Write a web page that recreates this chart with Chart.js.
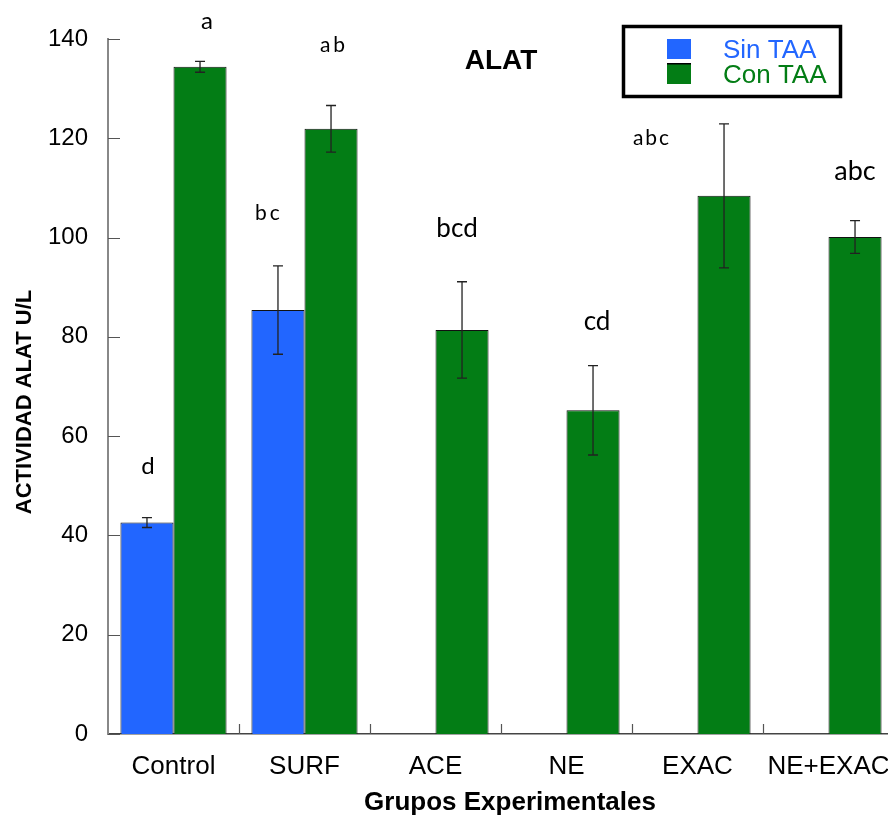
<!DOCTYPE html>
<html>
<head>
<meta charset="utf-8">
<script src="https://cdn.jsdelivr.net/npm/chart.js@4/dist/chart.umd.min.js"></script>
<style>
  html, body { margin: 0; padding: 0; background: #fff; overflow: hidden; }
  canvas { display: block; }
</style>
</head>
<body>
<canvas id="alat" width="894" height="816"></canvas>
<script>
// ALAT activity per experimental group, with and without TAA
const groups = ['Control', 'SURF', 'ACE', 'NE', 'EXAC', 'NE+EXAC'];
const sinTAA = [42.6, 85.4, null, null, null, null];
const sinTAAErr = [1.0, 8.9, null, null, null, null];
const conTAA = [134.4, 121.9, 81.4, 65.2, 108.4, 100.1];
const conTAAErr = [1.1, 4.7, 9.7, 9.0, 14.5, 3.3];
const sinLetters = ['d', 'bc', null, null, null, null];
const conLetters = ['a', 'ab', 'bcd', 'cd', 'abc', 'abc'];
const yTicks = [0, 20, 40, 60, 80, 100, 120, 140];

const BLUE = '#2266FF';
const GREEN = '#037D15';
const SANS = '"Liberation Sans", Arial, sans-serif';
const LETTER_FONT = 'Lato, "Open Sans", sans-serif';

// Error bars: value ± err, drawn on top of every bar
const errorBars = {
  id: 'errorBars',
  afterDatasetsDraw(chart, args, opts) {
    const { ctx } = chart;
    const y = chart.scales.y;
    chart.data.datasets.forEach((ds, i) => {
      const meta = chart.getDatasetMeta(i);
      meta.data.forEach((bar, j) => {
        const v = ds.data[j], e = ds.errors[j];
        if (v == null || e == null) return;
        const yt = y.getPixelForValue(v + e);
        const yb = y.getPixelForValue(v - e);
        ctx.save();
        ctx.strokeStyle = opts.color;
        ctx.lineWidth = opts.width;
        ctx.beginPath();
        ctx.moveTo(bar.x, yt); ctx.lineTo(bar.x, yb);
        ctx.moveTo(bar.x - opts.cap, yt); ctx.lineTo(bar.x + opts.cap, yt);
        ctx.moveTo(bar.x - opts.cap, yb); ctx.lineTo(bar.x + opts.cap, yb);
        ctx.stroke();
        ctx.restore();
      });
    });
  }
};

// Significance letters above each bar (offsets in pixels from the error-bar top)
const letterMarks = {
  id: 'letterMarks',
  afterDatasetsDraw(chart, args, opts) {
    const { ctx } = chart;
    const y = chart.scales.y;
    chart.data.datasets.forEach((ds, i) => {
      const meta = chart.getDatasetMeta(i);
      const offs = opts.offsets[i];
      const styles = opts.styles[i];
      ds.letters.forEach((txt, j) => {
        if (!txt) return;
        const bar = meta.data[j];
        const top = y.getPixelForValue(ds.data[j] + (ds.errors[j] || 0));
        const st = styles[j];
        ctx.save();
        ctx.fillStyle = '#000';
        ctx.font = st.size + 'px ' + LETTER_FONT;
        ctx.letterSpacing = st.spacing + 'px';
        ctx.textAlign = 'center';
        ctx.textBaseline = 'middle';
        ctx.fillText(txt, bar.x + offs[j][0], top + offs[j][1]);
        ctx.restore();
      });
    });
  }
};

// Inside tick marks on both axes
const innerTicks = {
  id: 'innerTicks',
  afterDraw(chart) {
    const { ctx } = chart;
    const xs = chart.scales.x, ys = chart.scales.y;
    ctx.save();
    ctx.strokeStyle = '#555';
    ctx.lineWidth = 1.2;
    ctx.beginPath();
    ys.ticks.forEach((t, k) => {
      const py = Math.round(ys.getPixelForTick(k)) + 0.5;
      ctx.moveTo(ys.right, py); ctx.lineTo(ys.right + 12, py);
    });
    const half = (xs.getPixelForTick(1) - xs.getPixelForTick(0)) / 2;
    for (let k = 1; k < groups.length; k++) {
      const px = Math.round(xs.getPixelForTick(k) - half) + 0.5;
      ctx.moveTo(px, xs.top); ctx.lineTo(px, xs.top - 10);
    }
    ctx.stroke();
    ctx.restore();
  }
};

// Heading, axis titles and boxed legend
const headingAndLegend = {
  id: 'headingAndLegend',
  afterDraw(chart) {
    const { ctx } = chart;
    ctx.save();
    ctx.fillStyle = '#000';
    ctx.textAlign = 'center';
    ctx.textBaseline = 'middle';
    ctx.font = 'bold 28px ' + SANS;
    ctx.fillText('ALAT', 501, 61);

    ctx.font = 'bold 26px ' + SANS;
    ctx.fillText('Grupos Experimentales', 510, 803);

    ctx.save();
    ctx.translate(25, 402);
    ctx.rotate(-Math.PI / 2);
    ctx.font = 'bold 22px ' + SANS;
    ctx.fillText('ACTIVIDAD ALAT U/L', 0, 0);
    ctx.restore();

    ctx.strokeStyle = '#000';
    ctx.lineWidth = 3.5;
    ctx.strokeRect(623.5, 26.5, 217, 70);

    chart.data.datasets.forEach((ds, i) => {
      const rowY = 49 + i * 25;
      ctx.fillStyle = ds.backgroundColor;
      ctx.fillRect(667, rowY - 10, 24, 20);
      if (i > 0) {
        ctx.fillStyle = '#000';
        ctx.fillRect(667, rowY - 11, 24, 1.5);
      }
      ctx.fillStyle = ds.backgroundColor;
      ctx.font = '26px ' + SANS;
      ctx.textAlign = 'left';
      ctx.textBaseline = 'middle';
      ctx.fillText(ds.label, 723, rowY + 2);
    });
    ctx.restore();
  }
};

new Chart(document.getElementById('alat'), {
  type: 'bar',
  data: {
    labels: groups,
    datasets: [
      { label: 'Sin TAA', data: sinTAA, errors: sinTAAErr, letters: sinLetters,
        backgroundColor: BLUE, borderColor: '#111', borderWidth: 1 },
      { label: 'Con TAA', data: conTAA, errors: conTAAErr, letters: conLetters,
        backgroundColor: GREEN, borderColor: '#111', borderWidth: 1 }
    ]
  },
  options: {
    responsive: false,
    animation: false,
    layout: { padding: { top: 39, right: 0, left: 0, bottom: 0 } },
    datasets: { bar: { categoryPercentage: 0.81, barPercentage: 1.0 } },
    scales: {
      x: {
        grid: { display: false },
        border: { color: '#444', width: 1.5 },
        ticks: { color: '#000', font: { family: SANS, size: 26 }, padding: 9, maxRotation: 0 },
        afterFit(scale) { scale.height = 82; scale.paddingLeft = 0; scale.paddingRight = 0; }
      },
      y: {
        min: 0, max: 140,
        afterBuildTicks(scale) { scale.ticks = yTicks.map(v => ({ value: v })); },
        grid: { display: false },
        border: { color: '#888', width: 2 },
        ticks: { color: '#000', font: { family: SANS, size: 24 }, padding: 12 },
        afterFit(scale) { scale.width = 108; }
      }
    },
    plugins: {
      legend: { display: false },
      tooltip: { enabled: false },
      errorBars: { color: '#222', width: 1.3, cap: 5 },
      letterMarks: {
        offsets: [
          [[1, -51], [-9, -53], null, null, null, null],
          [[7, -40], [3, -60], [-5, -53], [4, -44], [-72, 14], [0, -49]]
        ],
        styles: [
          [{ size: 24, spacing: 0 }, { size: 21, spacing: 3 }, null, null, null, null],
          [{ size: 24, spacing: 0 }, { size: 21, spacing: 3 }, { size: 26, spacing: 0 },
           { size: 26, spacing: 0 }, { size: 21, spacing: 2 }, { size: 27, spacing: 0 }]
        ]
      }
    }
  },
  plugins: [errorBars, letterMarks, innerTicks, headingAndLegend]
});
</script>
</body>
</html>
